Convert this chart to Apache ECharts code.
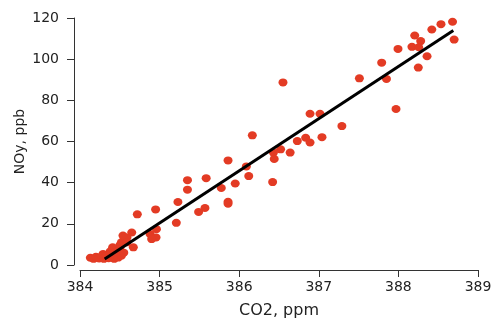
<!DOCTYPE html>
<html><head><meta charset="utf-8">
<script src="https://cdn.jsdelivr.net/npm/echarts@6/dist/echarts.min.js"></script>
<style>html,body{margin:0;padding:0;background:#fff}#c{width:501px;height:324px}</style>
</head><body><div id="c"></div>
<script>
const xTicks = [384, 385, 386, 387, 388, 389];
const yTicks = [0, 20, 40, 60, 80, 100, 120];
const co2 = [
  388.68, 388.535, 388.42, 388.205, 388.28, 388.17, 388.255, 388.70, 388.36, 387.995,
  387.79, 388.25, 387.51, 387.85, 387.97, 387.29, 386.55, 386.89, 387.015, 386.73,
  386.835, 386.89, 387.04, 386.165, 386.52, 386.64, 386.43, 386.44, 385.86, 386.09,
  386.12, 386.42, 385.585, 385.95, 385.775, 385.35, 385.35, 385.86, 385.86, 385.57,
  385.49, 385.23, 384.95, 384.72, 385.21, 384.96, 384.88, 384.955, 384.90, 384.65,
  384.59, 384.67, 384.52, 384.50, 384.54, 384.59, 384.41, 384.50, 384.38, 384.29,
  384.13, 384.17, 384.20, 384.24, 384.27, 384.30, 384.33, 384.36, 384.40, 384.43,
  384.45, 384.48, 384.38, 384.52, 384.47, 384.55
];
const noy = [
  118.2, 117.0, 114.4, 111.5, 108.8, 106.0, 105.8, 109.5, 101.4, 105.0,
  98.3, 95.9, 90.7, 90.4, 75.8, 67.5, 88.7, 73.5, 73.5, 60.2,
  61.8, 59.5, 62.1, 63.0, 56.2, 54.6, 54.6, 51.5, 50.8, 47.9,
  43.2, 40.3, 42.2, 39.6, 37.4, 41.2, 36.6, 30.7, 29.8, 27.7,
  25.8, 30.6, 27.0, 24.6, 20.5, 17.4, 15.1, 13.4, 12.6, 15.8,
  13.4, 8.6, 11.0, 9.5, 14.3, 11.0, 8.6, 7.8, 6.6, 5.4,
  3.5, 3.0, 4.0, 3.2, 4.2, 3.0, 4.5, 3.3, 4.0, 3.0,
  5.0, 3.6, 5.5, 4.5, 6.5, 6.0
];
const fitX = [384.31, 388.69];
const fitY = [2.9, 113.9];

const pts = co2.map((x, i) => [x, noy[i]]);
const fit = fitX.map((x, i) => [x, fitY[i]]);
const txt = '#222';
const font = 'DejaVu Sans';
const chart = echarts.init(document.getElementById('c'), null, {renderer: 'canvas'});
chart.setOption({
  animation: false,
  backgroundColor: '#fff',
  grid: {left: 80, right: 23, top: 18, bottom: 56},
  xAxis: {
    type: 'value', min: xTicks[0], max: xTicks[xTicks.length - 1], interval: 1,
    offset: 5,
    name: 'CO2, ppm', nameLocation: 'middle', nameGap: 33, nameMoveOverlap: false,
    nameTextStyle: {color: txt, fontFamily: font, fontSize: 16},
    axisLine: {show: true, onZero: false, lineStyle: {color: '#333', width: 1}},
    axisTick: {show: true, length: 7, lineStyle: {color: '#333'}},
    axisLabel: {color: txt, fontFamily: font, fontSize: 14, margin: 10},
    splitLine: {show: false}
  },
  yAxis: {
    type: 'value', min: yTicks[0], max: yTicks[yTicks.length - 1], interval: 20,
    offset: 6,
    name: 'NOy, ppb', nameLocation: 'middle', nameGap: 47, nameMoveOverlap: false,
    nameTextStyle: {color: txt, fontFamily: font, fontSize: 14},
    axisLine: {show: true, onZero: false, lineStyle: {color: '#333', width: 1}},
    axisTick: {show: true, length: 7, lineStyle: {color: '#333'}},
    axisLabel: {color: txt, fontFamily: font, fontSize: 14, margin: 15},
    splitLine: {show: false}
  },
  series: [
    {type: 'scatter', data: pts, symbol: 'circle', symbolSize: [9, 8],
     itemStyle: {color: '#e33b24', opacity: 1}, z: 2},
    {type: 'line', data: fit, showSymbol: false, symbol: 'none',
     lineStyle: {color: '#000', width: 3}, z: 3}
  ]
});
</script>
</body></html>
